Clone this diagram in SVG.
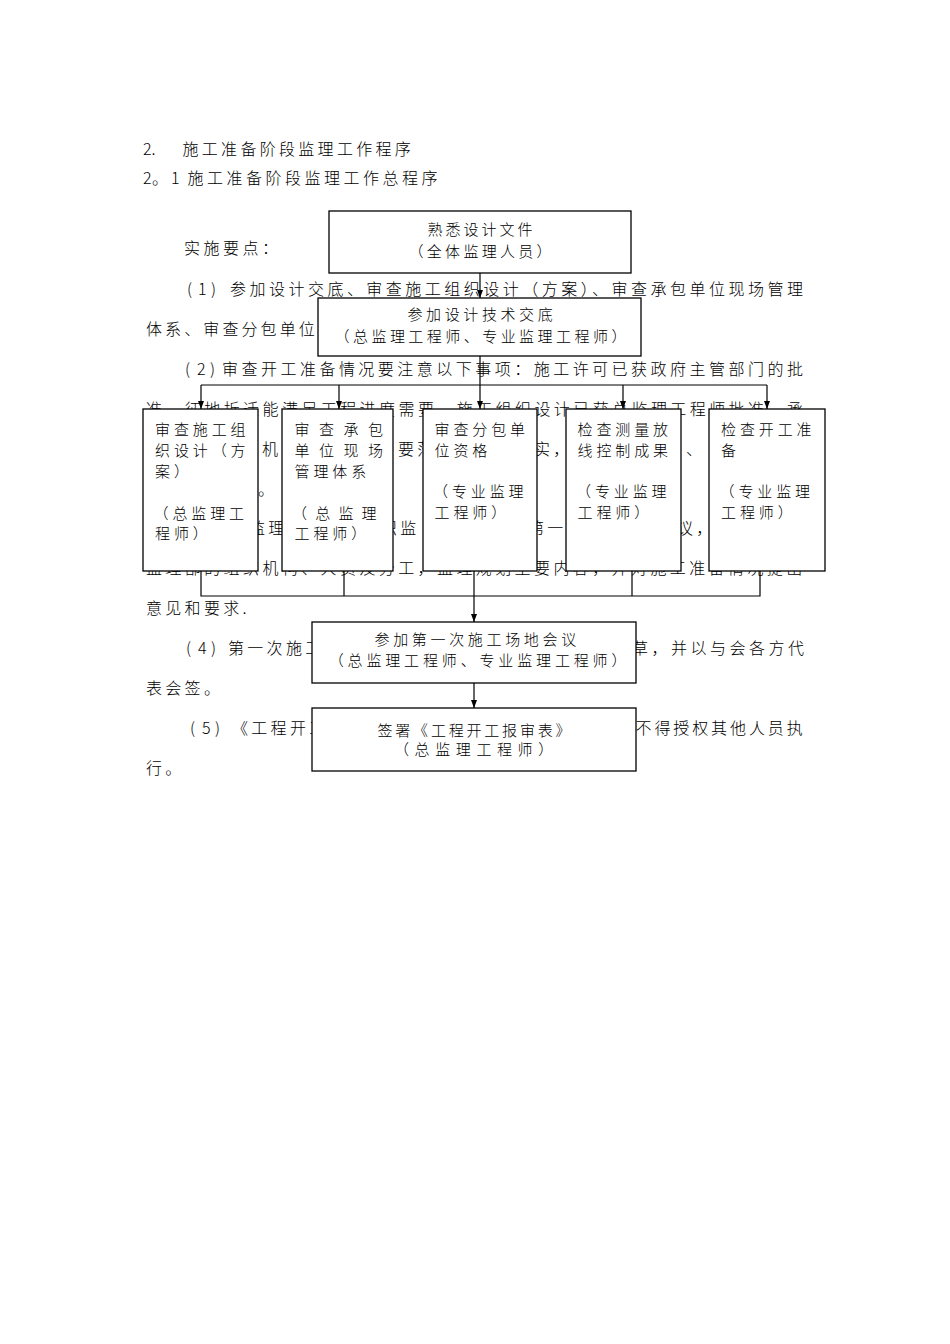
<svg xmlns="http://www.w3.org/2000/svg" width="950" height="1344" viewBox="0 0 950 1344">
<style>
text{font-family:"Noto Sans CJK SC","Noto Sans CJK JP",sans-serif;fill:#000;font-weight:300}
.b{font-size:16px}
.n{font-size:15px}
.box{fill:#fff;stroke:#000;stroke-width:1.3}
.c{fill:none;stroke:#000;stroke-width:1.2}
</style>
<defs>
<marker id="ah" viewBox="0 0 8 6" refX="8" refY="3" markerWidth="8" markerHeight="6" markerUnits="userSpaceOnUse" orient="auto"><path d="M0,0 L8,3 L0,6 z" fill="#000"/></marker>
</defs>
<rect width="950" height="1344" fill="#fff"/>
<g id="body-text" class="b">
<text x="143" y="155">2.</text>
<text x="182.5" y="155" letter-spacing="3.3">施工准备阶段监理工作程序</text>
<text x="143" y="183.5">2</text>
<text x="152" y="183.5">。</text>
<text x="171" y="183.5">1</text>
<text x="187.5" y="183.5" letter-spacing="3.5">施工准备阶段监理工作总程序</text>
<text x="184" y="254" letter-spacing="3.5">实施要点：</text>
<text x="187" y="295">(</text><text x="198" y="295">1</text><text x="211" y="295">)</text>
<text x="230" y="295" letter-spacing="3.48">参加设计交底、审查施工组织设计（方案）、审查承包单位现场管理</text>
<text x="146" y="335" letter-spacing="3.1">体系、审查分包单位</text>
<text x="185" y="375">(</text><text x="197" y="375">2</text><text x="210" y="375">)</text>
<text x="222" y="375" letter-spacing="3.48">审查开工准备情况要注意以下事项：施工许可已获政府主管部门的批</text>
<text x="146" y="415" letter-spacing="3.42">准，征地拆迁能满足工程进度需要，施工组织设计已获总监理工程师批准，承</text>
<text x="262" y="455">机</text>
<text x="398" y="455" letter-spacing="3.3">要落</text>
<text x="534" y="455" letter-spacing="3.3">实，</text>
<text x="686" y="455">、</text>
<text x="258" y="495">。</text>
<text x="249" y="534" letter-spacing="3.3">监理</text>
<text x="381" y="534" letter-spacing="3.3">织监</text>
<text x="528" y="534" letter-spacing="3.3">第一</text>
<text x="677" y="534" letter-spacing="3.3">议，</text>
<text x="146" y="574" letter-spacing="3.4">监理部的组织机构、人员及分工，监理规划主要内容，并对施工准备情况提出</text>
<text x="146" y="614" letter-spacing="3.3">意见和要求.</text>
<text x="186" y="654">(</text><text x="198" y="654">4</text><text x="211" y="654">)</text>
<text x="228" y="654" letter-spacing="3.3">第一次施工</text>
<text x="632" y="654" letter-spacing="3.5">草，并以与会各方代</text>
<text x="146" y="694" letter-spacing="3.3">表会签。</text>
<text x="190" y="734">(</text><text x="202" y="734">5</text><text x="215" y="734">)</text>
<text x="232" y="734" letter-spacing="3.3">《工程开工</text>
<text x="635.5" y="734" letter-spacing="2.9">不得授权其他人员执</text>
<text x="146" y="774" letter-spacing="3.3">行。</text>
</g>
<g id="connectors">
<path class="c" d="M480,273 V298" marker-end="url(#ah)"/>
<path class="c" d="M480,356 V409" marker-end="url(#ah)"/>
<path class="c" d="M201,385 H767"/>
<path class="c" d="M201,385 V409" marker-end="url(#ah)"/>
<path class="c" d="M339,385 V409" marker-end="url(#ah)"/>
<path class="c" d="M623,385 V409" marker-end="url(#ah)"/>
<path class="c" d="M767,385 V409" marker-end="url(#ah)"/>
<path class="c" d="M201,571 V596 H760 V571 M344,571 V596 M632,571 V596"/>
<path class="c" d="M474,571 V622" marker-end="url(#ah)"/>
<path class="c" d="M474,683 V708" marker-end="url(#ah)"/>
</g>
<g id="node-familiarize" class="n">
<rect class="box" x="329" y="211" width="302" height="62"/>
<text x="427.5" y="235" letter-spacing="3">熟悉设计文件</text>
<text x="408.5" y="256.5" letter-spacing="3.3">（全体监理人员）</text>
</g>
<g id="node-design-briefing" class="n">
<rect class="box" x="318" y="298" width="323" height="58"/>
<text x="407.5" y="320" letter-spacing="3.6">参加设计技术交底</text>
<text x="334.5" y="341.5" letter-spacing="3.46">（总监理工程师、专业监理工程师）</text>
</g>
<g id="node-review-org-design" class="n">
<rect class="box" x="143" y="409" width="115" height="162"/>
<text x="155" y="435" letter-spacing="3.9">审查施工组</text>
<text x="155" y="456" letter-spacing="3.9">织设计（方</text>
<text x="155" y="477" letter-spacing="3.9">案）</text>
<text x="153.5" y="519" letter-spacing="3.9">（总监理工</text>
<text x="155" y="539" letter-spacing="3.9">程师）</text>
</g>
<g id="node-review-contractor" class="n">
<rect class="box" x="282" y="409" width="111" height="162"/>
<text x="294.5" y="435" letter-spacing="9.5">审查承包</text>
<text x="294.5" y="456" letter-spacing="9.5">单位现场</text>
<text x="294.5" y="477" letter-spacing="3.9">管理体系</text>
<text x="292" y="519" letter-spacing="8.2">（总监理</text>
<text x="294.5" y="539" letter-spacing="3.9">工程师）</text>
</g>
<g id="node-review-subcontractor" class="n">
<rect class="box" x="423" y="409" width="114" height="162"/>
<text x="434.5" y="435" letter-spacing="3.9">审查分包单</text>
<text x="434.5" y="456" letter-spacing="3.9">位资格</text>
<text x="433" y="497" letter-spacing="3.9">（专业监理</text>
<text x="434.5" y="518" letter-spacing="3.9">工程师）</text>
</g>
<g id="node-check-survey" class="n">
<rect class="box" x="566" y="409" width="115" height="162"/>
<text x="577.5" y="435" letter-spacing="3.9">检查测量放</text>
<text x="577.5" y="456" letter-spacing="3.9">线控制成果</text>
<text x="576" y="497" letter-spacing="3.9">（专业监理</text>
<text x="577.5" y="518" letter-spacing="3.9">工程师）</text>
</g>
<g id="node-check-start" class="n">
<rect class="box" x="709" y="409" width="116" height="162"/>
<text x="721" y="435" letter-spacing="3.9">检查开工准</text>
<text x="721" y="456" letter-spacing="3.9">备</text>
<text x="719.5" y="497" letter-spacing="3.9">（专业监理</text>
<text x="721" y="518" letter-spacing="3.9">工程师）</text>
</g>
<g id="node-first-meeting" class="n">
<rect class="box" x="312" y="622" width="324" height="61"/>
<text x="374.5" y="645" letter-spacing="3.67">参加第一次施工场地会议</text>
<text x="328.7" y="666" letter-spacing="3.85">（总监理工程师、专业监理工程师）</text>
</g>
<g id="node-sign-report" class="n">
<rect class="box" x="312" y="708" width="324" height="63"/>
<text x="475.4" y="736" text-anchor="middle" letter-spacing="2.8">签署《工程开工报审表》</text>
<text x="394" y="754.5" letter-spacing="5.6">（总监理工程师）</text>
</g>
</svg>
